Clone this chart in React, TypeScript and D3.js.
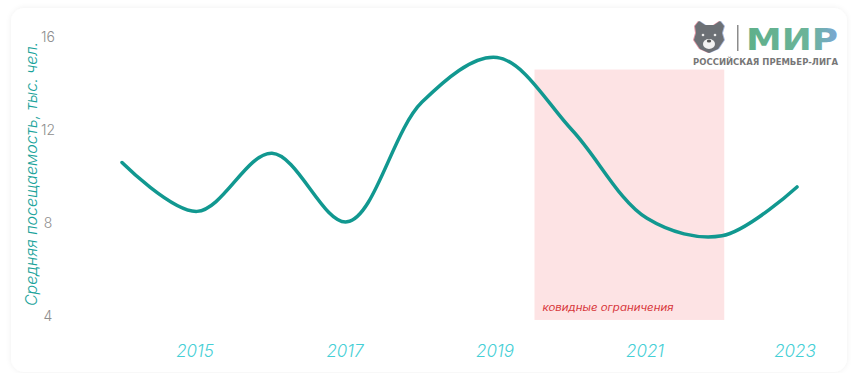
import React from "react";
import * as d3 from "d3";

const years = [2014, 2015, 2016, 2017, 2018, 2019, 2020, 2021, 2022, 2023];
const attendance = [10.6, 8.5, 11.0, 8.05, 13.2, 15.12, 12.0, 8.2, 7.45, 9.55];
const yTicks = [4, 8, 12, 16];
const xTicks = [2015, 2017, 2019, 2021, 2023];
const covidRange = [2019.5, 2022.03];
const covidTop = 14.6;
const covidLabel = "ковидные ограничения";
const yTitle = "Средняя посещаемость, тыс. чел.";

const W = 851;
const H = 373;

export default function App() {
  const x = d3.scaleLinear().domain([2014, 2023]).range([122, 797]);
  const y = d3.scaleLinear().domain([4, 16]).range([316, 37]);
  const line = d3
    .line<number>()
    .x((_, i) => x(years[i]))
    .y((d) => y(d))
    .curve(d3.curveCatmullRom.alpha(0.5));
  const path = line(attendance) || "";
  const font = "Inter, 'Open Sans', sans-serif";

  return (
    <svg
      width={W}
      height={H}
      style={{ position: "absolute", left: 0, top: 0 }}
      xmlns="http://www.w3.org/2000/svg"
    >
      <defs>
        <filter id="sh" x="-5%" y="-5%" width="110%" height="110%">
          <feGaussianBlur in="SourceAlpha" stdDeviation="3" />
          <feOffset dx="0" dy="0" result="b" />
          <feComponentTransfer>
            <feFuncA type="linear" slope="0.07" />
          </feComponentTransfer>
          <feMerge>
            <feMergeNode />
            <feMergeNode in="SourceGraphic" />
          </feMerge>
        </filter>
        <linearGradient id="mirg" x1="0" x2="1" y1="0" y2="0">
          <stop offset="0" stopColor="#5fb08a" />
          <stop offset="0.7" stopColor="#6cb49a" />
          <stop offset="1" stopColor="#7aa6d6" />
        </linearGradient>
      </defs>
      <rect width={W} height={H} fill="#ffffff" />
      <rect x={11} y={8} width={836} height={364} rx={14} fill="#ffffff" filter="url(#sh)" />

      {/* covid band */}
      <rect
        x={x(covidRange[0])}
        y={y(covidTop)}
        width={x(covidRange[1]) - x(covidRange[0])}
        height={y(3.83) - y(covidTop)}
        fill="#fde3e4"
      />
      <text
        x={x(covidRange[0]) + 8}
        y={311}
        fontSize={9.5}
        fontStyle="italic"
        fill="#d8383c"
        fontFamily={font}
        textLength={131}
        lengthAdjust="spacingAndGlyphs"
      >
        {covidLabel}
      </text>

      {/* y ticks */}
      {yTicks.map((t) => (
        <text
          key={t}
          x={48}
          y={y(t)}
          dy="0.35em"
          textAnchor="middle"
          fontSize={14}
          fill="#8e8e8e"
          fontFamily={font}
          fontWeight={300}
        >
          {t}
        </text>
      ))}
      <text
        transform={`translate(37,${174}) rotate(-90)`}
        textAnchor="middle"
        fontSize={16}
        fontStyle="italic"
        fill="#1aa39b"
        fontFamily={font}
        fontWeight={300}
      >
        {yTitle}
      </text>

      {/* x ticks */}
      {xTicks.map((t) => (
        <text
          key={t}
          x={x(t) - 2}
          y={357}
          textAnchor="middle"
          fontSize={17}
          fontStyle="italic"
          fill="#45cfd6"
          fontFamily={font}
          fontWeight={300}
        >
          {t}
        </text>
      ))}

      {/* line */}
      <path d={path} fill="none" stroke="#119890" strokeWidth={3.5} strokeLinecap="round" />

      {/* logo */}
      <g>
        <path
          d="M695 26 L699 21 L705 25 L714 25 L720 21 L724 26 L722 33 L724 40 L718 49 L709 53 L700 49 L694 40 L696 33 Z"
          fill="#d76a7a"
          transform="translate(-1,0)"
          opacity={0.7}
        />
        <path
          d="M695 26 L699 21 L705 25 L714 25 L720 21 L724 26 L722 33 L724 40 L718 49 L709 53 L700 49 L694 40 L696 33 Z"
          fill="#7f9ad0"
          transform="translate(1,0)"
          opacity={0.7}
        />
        <path
          d="M695 26 L699 21 L705 25 L714 25 L720 21 L724 26 L722 33 L724 40 L718 49 L709 53 L700 49 L694 40 L696 33 Z"
          fill="#6c7075"
        />
        <ellipse cx={709} cy={44} rx={6} ry={5} fill="#f2f2f2" />
        <ellipse cx={709} cy={41} rx={2.2} ry={1.5} fill="#555" />
        <circle cx={703} cy={35} r={1.3} fill="#eee" />
        <circle cx={715} cy={35} r={1.3} fill="#eee" />
        <rect x={737} y={25} width={1.5} height={26} fill="#8c8c8c" />
        <text
          x={746}
          y={50}
          fontSize={30}
          fontWeight={900}
          fill="url(#mirg)"
          fontFamily="'DejaVu Sans', sans-serif"
          textLength={92}
          lengthAdjust="spacingAndGlyphs"
        >
          МИР
        </text>
        <text
          x={693}
          y={65}
          fontSize={8.3}
          fontWeight={700}
          fill="#777"
          fontFamily="'DejaVu Sans', sans-serif"
          textLength={145}
          lengthAdjust="spacingAndGlyphs"
        >
          РОССИЙСКАЯ ПРЕМЬЕР-ЛИГА
        </text>
      </g>
    </svg>
  );
}
